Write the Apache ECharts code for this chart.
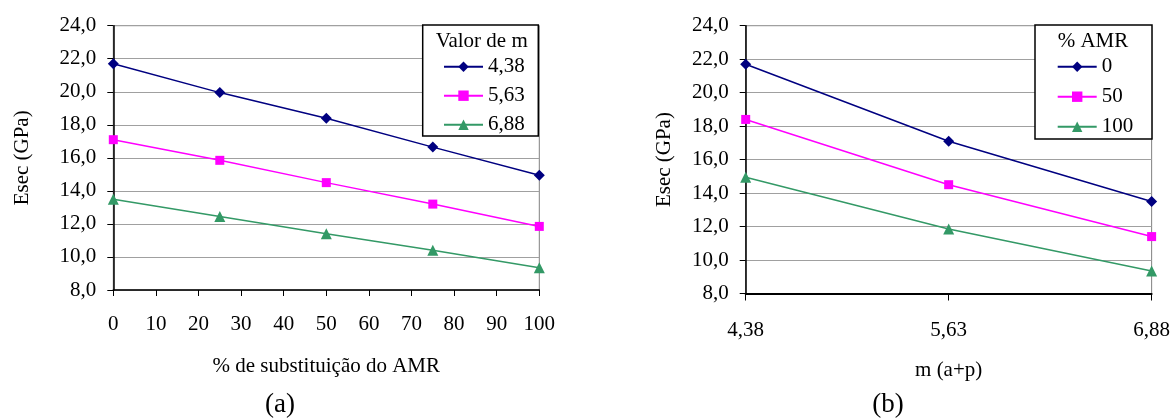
<!DOCTYPE html>
<html>
<head>
<meta charset="utf-8">
<script src="https://cdn.jsdelivr.net/npm/echarts@6/dist/echarts.min.js"></script>
<style>
html,body{margin:0;padding:0;background:#fff;}
#c{width:1173px;height:419px;}
</style>
</head>
<body>
<div id="c"></div>
<script>
// ---- data ----
var xA = [0, 25, 50, 75, 100];
var namesA = ['4,38', '5,63', '6,88'];
var a438 = [21.7, 19.95, 18.4, 16.65, 14.95];
var a563 = [17.1, 15.85, 14.5, 13.2, 11.85];
var a688 = [13.5, 12.45, 11.4, 10.4, 9.35];

var bCats = ['4,38', '5,63', '6,88'];
var namesB = ['0', '50', '100'];
var b0 = [21.7, 17.1, 13.5];
var b50 = [18.4, 14.5, 11.4];
var b100 = [14.95, 11.85, 9.35];

var legendTitleA = 'Valor de m';
var legendTitleB = '% AMR';
var xTitleA = '% de substituição do AMR';
var xTitleB = 'm (a+p)';
var yTitle = 'Esec (GPa)';

// ---- styles ----
var FONT = 'Liberation Serif';
var colors = ['#000080', '#FF00FF', '#339966'];
var symbols = ['diamond', 'rect', 'triangle'];
var symSizes = [11, 9, 11];

function pair(xs, ys) { return xs.map(function (x, i) { return [x, ys[i]]; }); }
function fmtY(v) { return v.toFixed(1).replace('.', ','); }

function yAxisCfg(gridIndex, gap) {
  return {
    gridIndex: gridIndex, type: 'value', min: 8, max: 24, interval: 2,
    name: yTitle, nameLocation: 'middle', nameGap: gap,
    nameTextStyle: { fontFamily: FONT, fontSize: 21, color: '#000' },
    axisLine: { show: true, lineStyle: { color: '#000', width: 1.5 } },
    axisTick: { show: true, length: 6, lineStyle: { color: '#000' } },
    axisLabel: { formatter: fmtY, fontFamily: FONT, fontSize: 21, color: '#000', margin: 17 },
    splitLine: { show: true, lineStyle: { color: '#a0a0a0', width: 1 } }
  };
}

function mkSeries(name, data, k, xi, yi) {
  return {
    type: 'line', name: name, data: data, xAxisIndex: xi, yAxisIndex: yi,
    symbol: symbols[k], symbolSize: symSizes[k], color: colors[k],
    lineStyle: { color: colors[k], width: 1.5 },
    itemStyle: { color: colors[k] },
    animation: false
  };
}

var series = [
  mkSeries(namesA[0], pair(xA, a438), 0, 0, 0),
  mkSeries(namesA[1], pair(xA, a563), 1, 0, 0),
  mkSeries(namesA[2], pair(xA, a688), 2, 0, 0),
  mkSeries(namesB[0], b0, 0, 1, 1),
  mkSeries(namesB[1], b50, 1, 1, 1),
  mkSeries(namesB[2], b100, 2, 1, 1)
];

var legendText = { fontFamily: FONT, fontSize: 21, color: '#000', lineHeight: 22 };

var option = {
  animation: false,
  textStyle: { fontFamily: FONT },
  grid: [
    { left: 113.3, top: 25.7, width: 426, height: 264.3, show: true, borderColor: '#808080', borderWidth: 1, backgroundColor: 'transparent' },
    { left: 745.7, top: 25.7, width: 406.6, height: 267.8, show: true, borderColor: '#808080', borderWidth: 1, backgroundColor: 'transparent' }
  ],
  xAxis: [
    {
      gridIndex: 0, type: 'value', min: 0, max: 100, interval: 10,
      name: xTitleA, nameLocation: 'middle', nameGap: 66,
      nameTextStyle: { fontFamily: FONT, fontSize: 21, color: '#000' },
      axisLine: { show: true, lineStyle: { color: '#000', width: 1.5 } },
      axisTick: { show: true, length: 6, lineStyle: { color: '#000' } },
      axisLabel: { fontFamily: FONT, fontSize: 21, color: '#000', margin: 24 },
      splitLine: { show: false }
    },
    {
      gridIndex: 1, type: 'category', data: bCats, boundaryGap: false,
      name: xTitleB, nameLocation: 'middle', nameGap: 66,
      nameTextStyle: { fontFamily: FONT, fontSize: 21, color: '#000' },
      axisLine: { show: true, lineStyle: { color: '#000', width: 2 } },
      axisTick: { show: true, length: 7, lineStyle: { color: '#000' } },
      axisLabel: { fontFamily: FONT, fontSize: 21, color: '#000', margin: 26, showMaxLabel: true, showMinLabel: true },
      splitLine: { show: false }
    }
  ],
  yAxis: [yAxisCfg(0, 80), yAxisCfg(1, 71)],
  legend: [
    {
      orient: 'vertical', left: 443, top: 55.7, padding: 0,
      itemWidth: 39, itemHeight: 13, itemGap: 7,
      data: namesA, textStyle: legendText, selectedMode: false
    },
    {
      orient: 'vertical', left: 1056.7, top: 55.7, padding: 0,
      itemWidth: 39, itemHeight: 13, itemGap: 8,
      data: namesB, textStyle: legendText, selectedMode: false
    }
  ],
  graphic: [
    { type: 'rect', z: 3, shape: { x: 422.7, y: 25, width: 115.6, height: 111 }, style: { fill: '#fff', stroke: '#000', lineWidth: 1.5 } },
    { type: 'rect', z: 3, shape: { x: 1035, y: 25, width: 117, height: 114 }, style: { fill: '#fff', stroke: '#000', lineWidth: 1.5 } },
    { type: 'text', z: 5, x: 481.7, y: 41.7, style: { text: legendTitleA, font: '21px "Liberation Serif"', fill: '#000', textAlign: 'center', textVerticalAlign: 'middle' } },
    { type: 'text', z: 5, x: 1093, y: 41.7, style: { text: legendTitleB, font: '21px "Liberation Serif"', fill: '#000', textAlign: 'center', textVerticalAlign: 'middle' } },
    { type: 'text', z: 5, x: 280, y: 405, style: { text: '(a)', font: '27px "Liberation Serif"', fill: '#000', textAlign: 'center', textVerticalAlign: 'middle' } },
    { type: 'text', z: 5, x: 888, y: 405, style: { text: '(b)', font: '27px "Liberation Serif"', fill: '#000', textAlign: 'center', textVerticalAlign: 'middle' } }
  ],
  series: series
};

var chart = echarts.init(document.getElementById('c'), null, { renderer: 'canvas' });
chart.setOption(option);
</script>
</body>
</html>
